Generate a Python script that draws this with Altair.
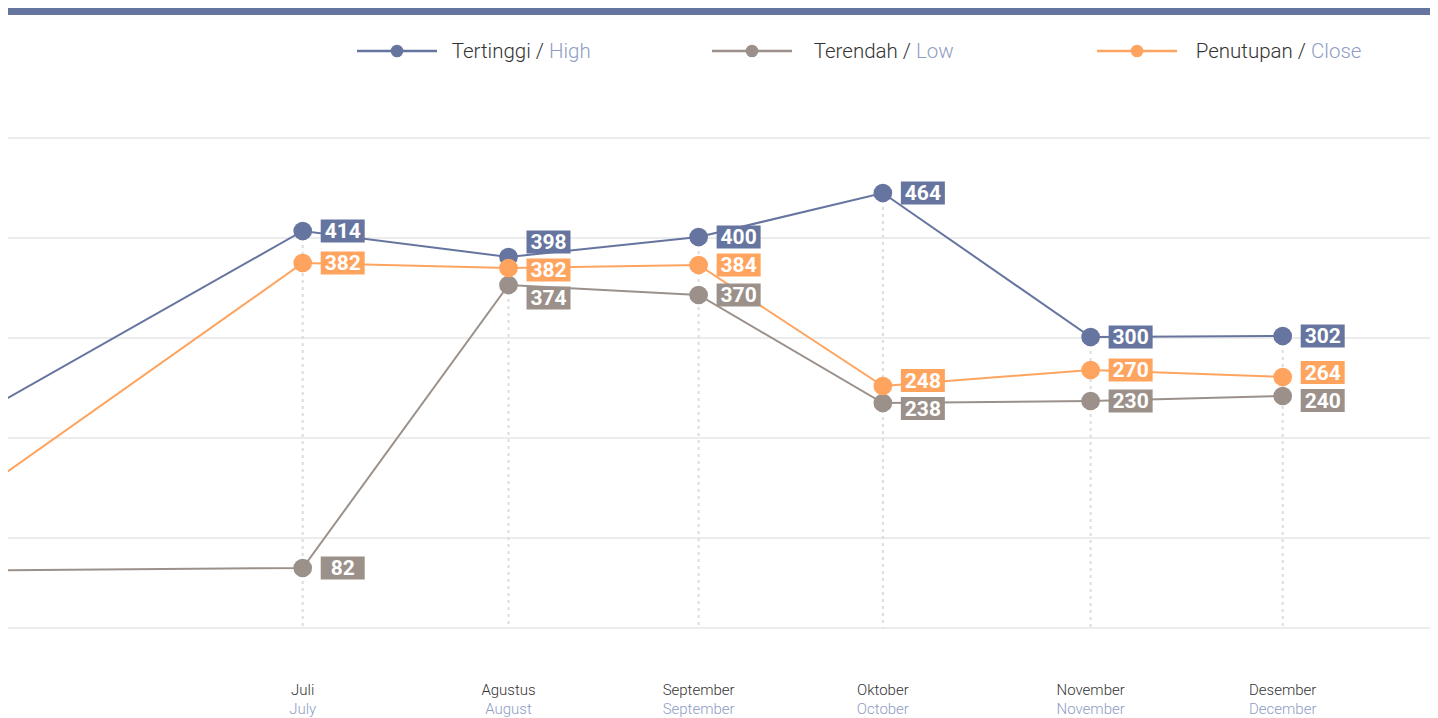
import altair as alt
import pandas as pd

# ---------------- data ----------------
# position of each observation on the time axis (month number); the first one
# is an earlier observation that lies left of the visible window
obs_pos = [5.0, 7.0, 8.05, 9.02, 9.96, 11.02, 12.0]
month_id = ["", "Juli", "Agustus", "September", "Oktober", "November", "Desember"]
month_en = ["", "July", "August", "September", "October", "November", "December"]

high = [185, 407, 381, 401, 445, 301, 302]
low = [67, 70, 353, 343, 235, 237, 242]
close = [98, 375, 370, 373, 252, 268, 261]

high_lbl = ["", "414", "398", "400", "464", "300", "302"]
low_lbl = ["", "82", "374", "370", "238", "230", "240"]
close_lbl = ["", "382", "382", "384", "248", "270", "264"]

grid_vals = [10, 100, 200, 300, 400, 500]

series_names = ["High", "Low", "Close"]
series_colors = ["#66759f", "#9b918a", "#ffa45f"]
legend_id = ["Tertinggi /", "Terendah /", "Penutupan /"]
legend_en = ["High", "Low", "Close"]

# ---------------- build tables ----------------
rows = []
for s, vals, lbls in [("High", high, high_lbl), ("Low", low, low_lbl), ("Close", close, close_lbl)]:
    for p, v, l, mi, me in zip(obs_pos, vals, lbls, month_id, month_en):
        rows.append(dict(pos=p, series=s, value=v, label=l, mid=mi, men=me))
df = pd.DataFrame(rows)

# label placement: spread labels of one month apart so boxes do not overlap
GAP = 28


def spread(vals):
    order = sorted(range(len(vals)), key=lambda i: -vals[i])
    clusters = [[i] for i in order]

    def place(cl):
        c = sum(vals[i] for i in cl) / len(cl)
        n = len(cl)
        return [c + ((n - 1) / 2 - k) * GAP for k in range(n)]

    changed = True
    while changed:
        changed = False
        for j in range(len(clusters) - 1):
            if place(clusters[j])[-1] - place(clusters[j + 1])[0] < GAP:
                clusters[j] = clusters[j] + clusters[j + 1]
                del clusters[j + 1]
                changed = True
                break
    out = [0.0] * len(vals)
    for cl in clusters:
        for i, p in zip(cl, place(cl)):
            out[i] = p
    return out


df["label_pos"] = df["value"].astype(float)
for p in obs_pos:
    idx = df.index[df["pos"] == p].tolist()
    placed = spread([df.loc[i, "value"] for i in idx])
    for i, v in zip(idx, placed):
        df.loc[i, "label_pos"] = v

vis = df[df["label"] != ""]

months = pd.DataFrame({"pos": obs_pos, "mid": month_id, "men": month_en})
months["top"] = [max(a, b, c) for a, b, c in zip(high, low, close)]
months["base"] = grid_vals[0]
months = months[months["mid"] != ""]

grid_df = pd.DataFrame({"g": grid_vals})

# ---------------- scales ----------------
W, H = 1422, 710
xscale = alt.Scale(domain=[5.4964, 5.4964 + W / 196.0], nice=False, zero=False)
yscale = alt.Scale(domain=[-80, 630], nice=False, zero=False)
cscale = alt.Scale(domain=series_names, range=series_colors)
X = alt.X("pos:Q", scale=xscale, axis=None)
FONT = "Roboto"

grid = alt.Chart(grid_df).mark_rule(color="#e6e6e6", strokeWidth=1.5).encode(
    y=alt.Y("g:Q", scale=yscale, axis=None)
)

topbar = alt.Chart(grid_df).mark_rect(color="#66759f").encode(
    x=alt.value(0), x2=alt.value(W), y=alt.value(0), y2=alt.value(7)
)

vrules = alt.Chart(months).mark_rule(
    color="#dcdcdc", strokeWidth=2, strokeDash=[3, 4]
).encode(
    x=X,
    y=alt.Y("top:Q", scale=yscale, axis=None),
    y2="base:Q",
)

lines = alt.Chart(df).mark_line(strokeWidth=2, clip=True).encode(
    x=X,
    y=alt.Y("value:Q", scale=yscale, axis=None),
    color=alt.Color("series:N", scale=cscale, legend=None),
    detail="series:N",
)

dots = alt.Chart(vis).mark_circle(size=350, opacity=1).encode(
    x=X,
    y=alt.Y("value:Q", scale=yscale, axis=None),
    color=alt.Color("series:N", scale=cscale, legend=None),
)

boxes = alt.Chart(vis).mark_rect(
    xOffset=18, x2Offset=62, yOffset=-11.5, y2Offset=11.5
).encode(
    x=X,
    x2="pos:Q",
    y=alt.Y("label_pos:Q", scale=yscale, axis=None),
    y2="label_pos:Q",
    color=alt.Color("series:N", scale=cscale, legend=None),
)

texts = alt.Chart(vis).mark_text(
    font=FONT, fontWeight="bold", fontSize=21, color="white",
    align="center", baseline="middle", dx=40, dy=1,
).encode(
    x=X,
    y=alt.Y("label_pos:Q", scale=yscale, axis=None),
    text="label:N",
)

xlab_id = alt.Chart(months).mark_text(
    font=FONT, fontSize=15, fontWeight=300, color="#333333", align="center", baseline="middle"
).encode(x=X, y=alt.value(682), text="mid:N")

xlab_en = alt.Chart(months).mark_text(
    font=FONT, fontSize=15, fontWeight=300, color="#8e9cc3", align="center", baseline="middle"
).encode(x=X, y=alt.value(701), text="men:N")

# ---------------- legend (drawn by hand, two-coloured labels) ----------------
legend_layout = [  # line start, second-part start (pixels in the chart)
    (349, 541),
    (704, 908),
    (1089, 1303),
]
legend_layers = []
one = pd.DataFrame({"k": [0]})
for (x0, xen), col, tid, ten in zip(legend_layout, series_colors, legend_id, legend_en):
    legend_layers.append(
        alt.Chart(one).mark_rule(color=col, strokeWidth=2.5).encode(
            x=alt.value(x0), x2=alt.value(x0 + 80), y=alt.value(43)
        )
    )
    legend_layers.append(
        alt.Chart(one).mark_circle(color=col, size=160, opacity=1).encode(
            x=alt.value(x0 + 40), y=alt.value(43)
        )
    )
    legend_layers.append(
        alt.Chart(one).mark_text(
            font=FONT, fontSize=20.5, fontWeight=300, color="#333333",
            align="right", baseline="middle", text=tid,
        ).encode(x=alt.value(xen - 5), y=alt.value(44))
    )
    legend_layers.append(
        alt.Chart(one).mark_text(
            font=FONT, fontSize=20.5, fontWeight=300, color="#8e9cc3",
            align="left", baseline="middle", text=ten,
        ).encode(x=alt.value(xen), y=alt.value(44))
    )

chart = alt.layer(
    grid, topbar, vrules, lines, dots, boxes, texts, xlab_id, xlab_en, *legend_layers
).properties(
    width=W, height=H, padding=0, autosize="none", background="white"
).configure_view(stroke=None)

chart.save("out.html", embed_options={"renderer": "svg", "actions": False})
